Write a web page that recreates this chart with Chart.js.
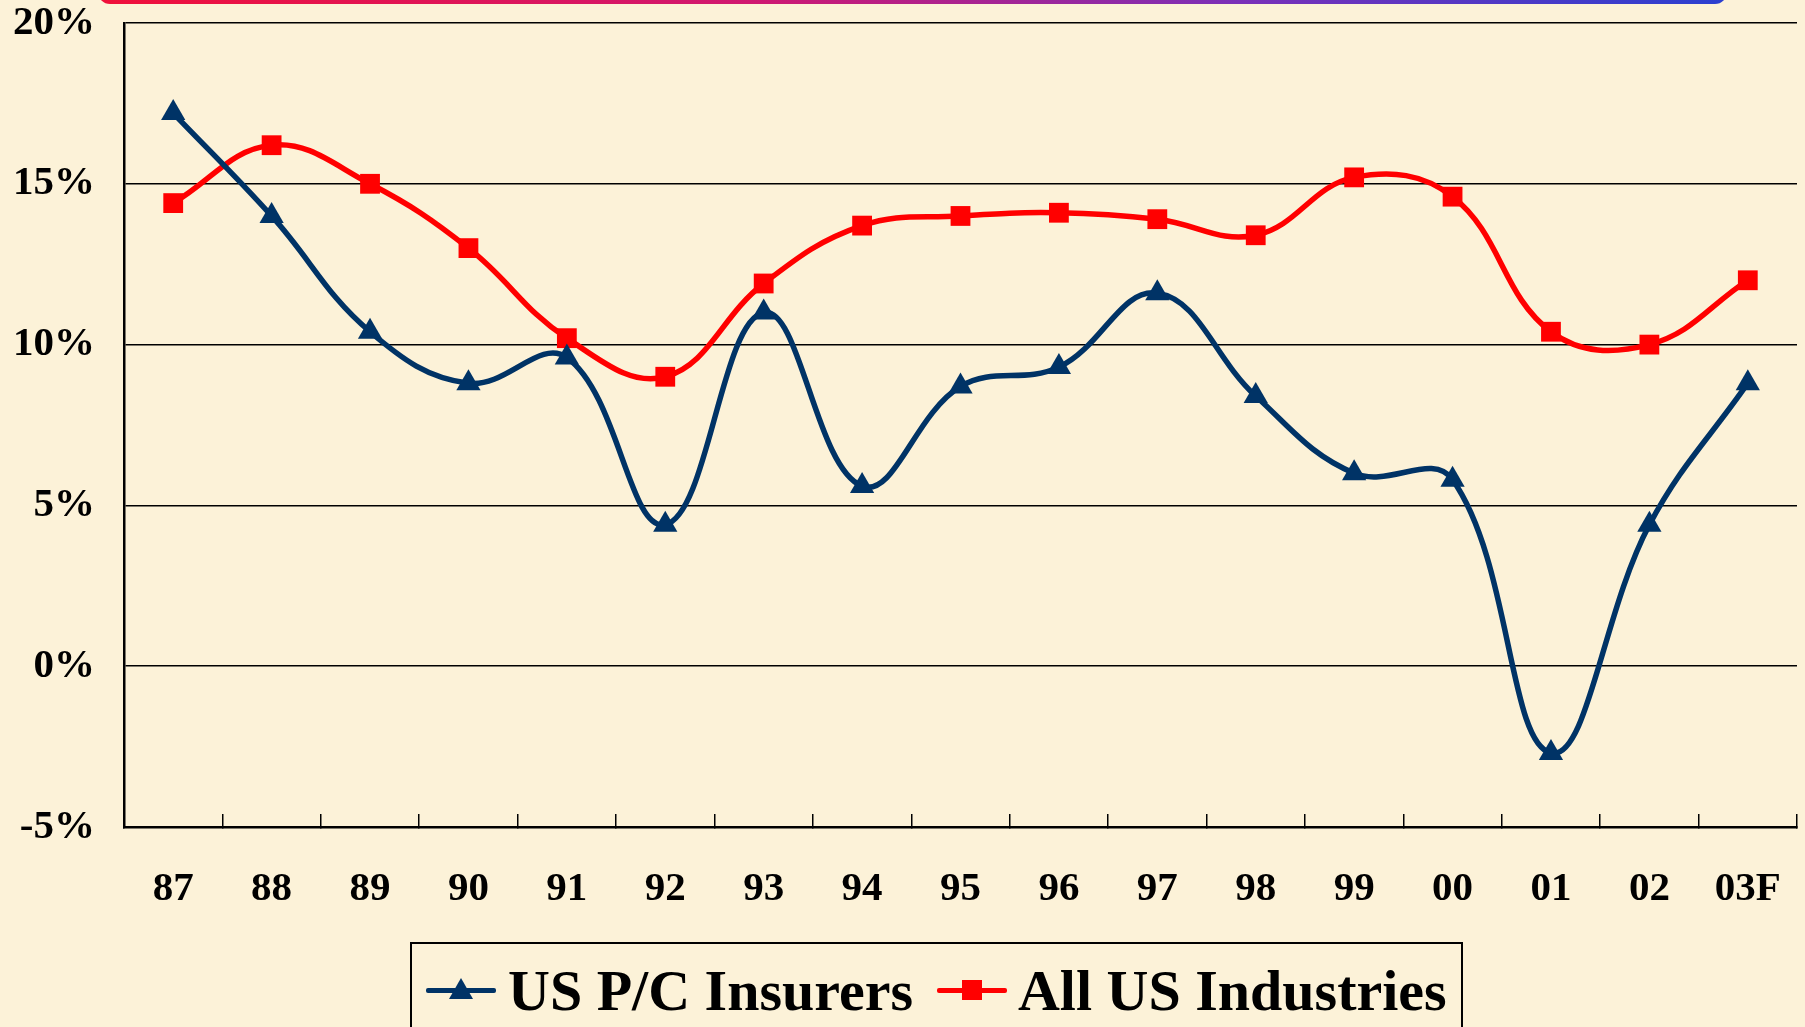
<!DOCTYPE html>
<html>
<head>
<meta charset="utf-8">
<script src="https://cdn.jsdelivr.net/npm/chart.js@4"></script>
<style>
  html, body { margin: 0; padding: 0; }
  body {
    width: 1805px; height: 1027px; overflow: hidden; position: relative;
    background: #fcf2d8;
    font-family: 'Liberation Serif', 'Times New Roman', serif;
  }
  #topBar {
    position: absolute; left: 98px; top: -20px; width: 1629px; height: 24px;
    border-radius: 12px;
    background: linear-gradient(to right, #f0103a 0%, #d01870 40%, #7a30b8 70%, #2a40d0 100%);
  }
  #wrap { position: absolute; left: 0; top: 0; width: 1805px; height: 1027px; }
  #legend {
    position: absolute; left: 410px; top: 942px; width: 1049px; height: 110px;
    border: 2px solid #000; box-sizing: content-box;
    display: flex; align-items: flex-start;
  }
  .item { display: flex; align-items: center; height: 92px; }
  .sample { position: relative; width: 70px; height: 20px; }
  .sample .ln { position: absolute; left: 0; right: 0; top: 8px; height: 5px; border-radius: 2px; }
  .sample .mk { position: absolute; }
  .label { font-weight: bold; font-size: 58px; color: #000; white-space: nowrap; }
</style>
</head>
<body>
<div id="topBar"></div>
<div id="wrap"><canvas id="roeChart" width="1805" height="1027"></canvas></div>
<div id="legend">
  <div class="item" style="margin-left:14px">
    <div class="sample">
      <div class="ln" style="background:#003366"></div>
      <div class="mk" style="left:23px;top:-2px;width:24px;height:21px;background:#003366;clip-path:polygon(50% 0,100% 100%,0 100%)"></div>
    </div>
    <span class="label" style="margin-left:12px">US P/C Insurers</span>
  </div>
  <div class="item" style="margin-left:24px">
    <div class="sample">
      <div class="ln" style="background:#ff0000"></div>
      <div class="mk" style="left:25px;top:0px;width:20px;height:20px;background:#ff0000"></div>
    </div>
    <span class="label" style="margin-left:11px">All US Industries</span>
  </div>
</div>

<script>
// --- DATA ---
const years = ['87', '88', '89', '90', '91', '92', '93', '94', '95', '96', '97', '98', '99', '00', '01', '02', '03F'];
const pcInsurers = [17.2, 14.0, 10.4, 8.8, 9.6, 4.4, 11.0, 5.6, 8.7, 9.3, 11.6, 8.4, 6.0, 5.8, -2.7, 4.4, 8.8];
const allIndustries = [14.4, 16.2, 15.0, 13.0, 10.2, 9.0, 11.9, 13.7, 14.0, 14.1, 13.9, 13.4, 15.2, 14.6, 10.4, 10.0, 12.0];
const yMin = -5, yMax = 20, yStep = 5;

const tickFont = { family: "'Liberation Serif', 'Times New Roman', serif", size: 41, weight: 'bold' };

// --- Chart ---
window.addEventListener('DOMContentLoaded', () => {
  const ctx = document.getElementById('roeChart').getContext('2d');
  new Chart(ctx, {
    type: 'line',
    data: {
      labels: years,
      datasets: [
        {
          label: 'US P/C Insurers',
          data: pcInsurers,
          borderColor: '#003366',
          backgroundColor: '#003366',
          borderWidth: 5.5,
          tension: 0.4,
          pointStyle: 'triangle',
          pointRadius: 14,
          pointBorderWidth: 0,
          pointBackgroundColor: '#003366'
        },
        {
          label: 'All US Industries',
          data: allIndustries,
          borderColor: '#ff0000',
          backgroundColor: '#ff0000',
          borderWidth: 5.5,
          tension: 0.4,
          pointStyle: 'rect',
          pointRadius: 14,
          pointBorderWidth: 0,
          pointBackgroundColor: '#ff0000'
        }
      ]
    },
    options: {
      responsive: false,
      animation: false,
      layout: { autoPadding: false, padding: { left: 12, right: 8, top: 23, bottom: 114 } },
      plugins: { legend: { display: false }, tooltip: { enabled: false } },
      scales: {
        x: {
          offset: true,
          grid: { drawOnChartArea: false, drawTicks: true, tickLength: -13, color: '#000', lineWidth: 1.5, offset: true },
          border: { color: '#000', width: 2.5 },
          ticks: { color: '#000', font: tickFont, padding: 51, maxRotation: 0, autoSkip: false },
          afterFit: s => { s.height = 86; s.paddingLeft = 0; s.paddingRight = 0; }
        },
        y: {
          min: yMin,
          max: yMax,
          grid: { color: '#000', lineWidth: 1.5, drawTicks: false },
          border: { color: '#000', width: 2.5 },
          ticks: { stepSize: yStep, color: '#000', font: tickFont, padding: 29, callback: v => v + '%' },
          afterFit: s => { s.width = 112; s.paddingTop = 0; s.paddingBottom = 0; }
        }
      }
    }
  });
});
</script>
</body>
</html>
